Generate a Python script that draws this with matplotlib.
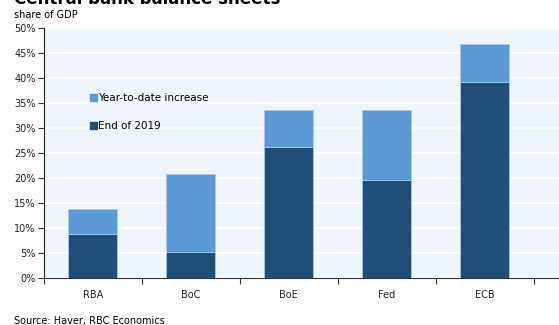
import numpy as np
import matplotlib.pyplot as plt
from matplotlib.patches import Patch

banks = ['RBA', 'BoC', 'BoE', 'Fed', 'ECB']
end_2019 = [8.8, 5.2, 26.2, 19.6, 39.2]
ytd_increase = [5.0, 15.6, 7.4, 14.0, 7.6]

dark = '#1f4e79'
light = '#5b9bd5'

fig = plt.figure(figsize=(5.59, 3.25), dpi=100)
ax = fig.add_axes([44/559, 1-278/325, 1-44/559, 250/325])
ax.set_facecolor('#eef5fd')

x = np.arange(len(banks))
ax.bar(x, end_2019, width=0.5, color=dark, edgecolor='#a9c8e8', linewidth=0.6, zorder=3)
ax.bar(x, ytd_increase, bottom=end_2019, width=0.5, color=light, edgecolor='#a9c8e8', linewidth=0.6, zorder=3)

ax.set_ylim(0, 50)
ax.set_xlim(-0.5, 4.76)
ax.set_yticks(np.arange(0, 51, 5))
ax.set_yticklabels([f'{v}%' for v in range(0, 51, 5)], fontsize=7, color='#222222')
ax.yaxis.grid(True, color='white', linewidth=1.2, zorder=0)
ax.set_axisbelow(True)

ax.set_xticks(np.arange(-0.5, 5, 1))
ax.set_xticklabels([])
ax.set_xticks(x, minor=True)
ax.set_xticklabels(banks, minor=True, fontsize=7, color='#222222')
ax.tick_params(axis='x', which='minor', length=0, pad=9)
ax.tick_params(axis='x', which='major', length=4, direction='out', color='#333333')
ax.tick_params(axis='y', length=4, direction='out', color='#333333', pad=2)

for s in ['top', 'right']:
    ax.spines[s].set_visible(False)
ax.spines['left'].set_color('#222222')
ax.spines['bottom'].set_color('#333333')

handles = [Patch(color=light, label='Year-to-date increase'),
           Patch(color=dark, label='End of 2019')]
ax.legend(handles=handles, loc='upper left', bbox_to_anchor=(0.08, 0.76),
          frameon=False, fontsize=7.5, handlelength=0.6, handleheight=0.6,
          handletextpad=0.15, labelspacing=1.75, borderpad=0)

fig.text(0.025, 1-4/325, 'Central bank balance sheets', fontsize=12, fontweight='bold', va='baseline')
fig.text(0.025, 1-15/325, 'share of GDP', fontsize=7, va='center')
fig.text(0.025, 1-321/325, 'Source: Haver, RBC Economics', fontsize=7, va='center')

fig.savefig('out.png', dpi=100)
